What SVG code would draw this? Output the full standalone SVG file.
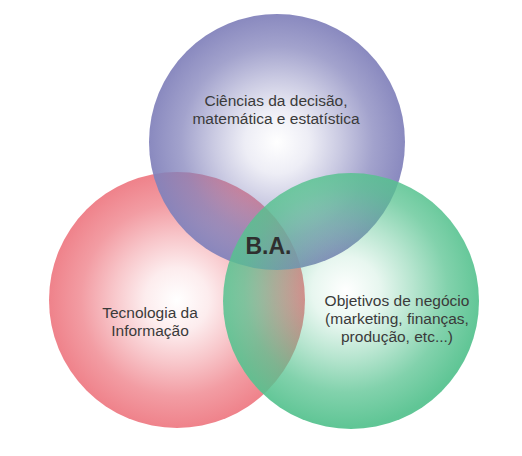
<svg xmlns="http://www.w3.org/2000/svg" width="522" height="456" viewBox="0 0 522 456">
<defs>
<radialGradient id="gBlue" cx="0.5" cy="0.5" r="0.5">
<stop offset="0" stop-color="#8282bb" stop-opacity="0"/>
<stop offset="0.25" stop-color="#8282bb" stop-opacity="0.14"/>
<stop offset="0.5" stop-color="#8282bb" stop-opacity="0.43"/>
<stop offset="0.75" stop-color="#8282bb" stop-opacity="0.74"/>
<stop offset="1" stop-color="#8282bb" stop-opacity="0.94"/>
</radialGradient>
<radialGradient id="gRed" cx="0.5" cy="0.5" r="0.5">
<stop offset="0" stop-color="#ee7a83" stop-opacity="0"/>
<stop offset="0.25" stop-color="#ee7a83" stop-opacity="0.14"/>
<stop offset="0.5" stop-color="#ee7a83" stop-opacity="0.43"/>
<stop offset="0.75" stop-color="#ee7a83" stop-opacity="0.74"/>
<stop offset="1" stop-color="#ee7a83" stop-opacity="0.94"/>
</radialGradient>
<radialGradient id="gGreen" cx="0.48" cy="0.46" r="0.53">
<stop offset="0" stop-color="#56c28f" stop-opacity="0"/>
<stop offset="0.25" stop-color="#56c28f" stop-opacity="0.14"/>
<stop offset="0.5" stop-color="#56c28f" stop-opacity="0.43"/>
<stop offset="0.75" stop-color="#56c28f" stop-opacity="0.74"/>
<stop offset="1" stop-color="#56c28f" stop-opacity="0.94"/>
</radialGradient>
</defs>
<style>
.lbl{font-family:"Liberation Sans",Arial,sans-serif;font-size:15.5px;fill:#3a3a3a;text-anchor:middle}
.ba{font-family:"Liberation Sans",Arial,sans-serif;font-size:23px;font-weight:bold;fill:#2f2f2f;text-anchor:middle}
</style>
<rect width="522" height="456" fill="#ffffff"/>
<g id="ti">
<circle cx="177" cy="300" r="128" fill="url(#gRed)"/>
</g>
<g id="cd">
<circle cx="277" cy="142" r="128" fill="url(#gBlue)"/>
</g>
<g id="obj">
<circle cx="351" cy="301" r="128" fill="url(#gGreen)"/>
</g>
<g id="labels">
<text class="lbl" x="276" y="106">Ciências da decisão,</text>
<text class="lbl" x="276" y="124">matemática e estatística</text>
<text class="lbl" x="150" y="318">Tecnologia da</text>
<text class="lbl" x="150" y="336">Informação</text>
<text class="lbl" x="397" y="306">Objetivos de negócio</text>
<text class="lbl" x="397" y="324">(marketing, finanças,</text>
<text class="lbl" x="397" y="342">produção, etc...)</text>
<text class="ba" x="268.5" y="254">B.A.</text>
</g>
<g id="connectors"/>
</svg>
